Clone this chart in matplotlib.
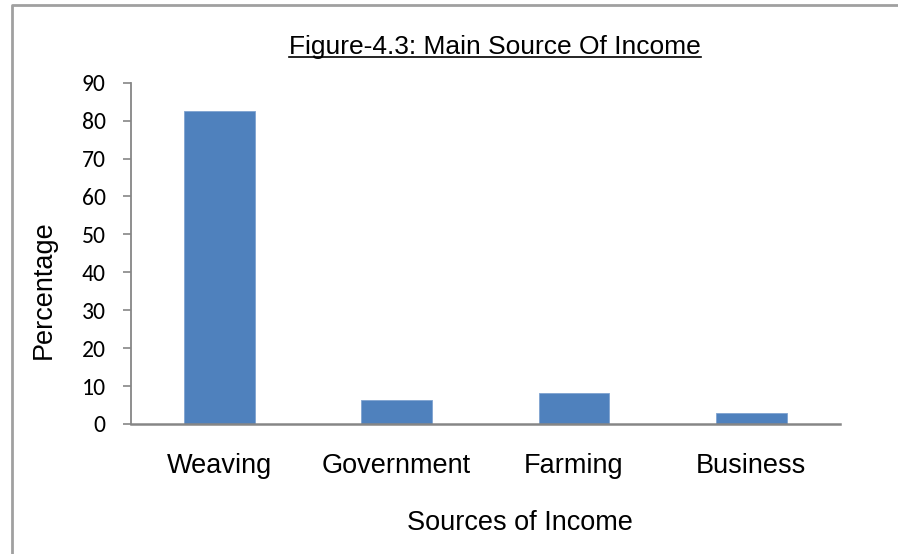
import numpy as np
import matplotlib
matplotlib.use("Agg")
import matplotlib.pyplot as plt
from matplotlib.lines import Line2D

categories = ["Weaving", "Government", "Farming", "Business"]
percentages = [82.6, 6.3, 8.2, 2.8]
yticks = [0, 10, 20, 30, 40, 50, 60, 70, 80, 90]

narrow = ['Liberation Sans Narrow', 'Liberation Sans', 'DejaVu Sans']
calibri = ['Carlito', 'Lato', 'DejaVu Sans']
axisGrey = '#868686'

fig = plt.figure(figsize=(8.98, 5.54), dpi=100)
ax = fig.add_axes([0.1455, 0.2347, 0.7899, 0.616])

x = np.arange(len(categories))
ax.bar(x, percentages, width=0.4, color='#4F81BD', edgecolor='#7FA3D0', linewidth=0.6)
ax.set_xlim(-0.5, len(categories) - 0.5)
ax.set_ylim(0, 90)
ax.set_yticks(yticks)
ax.set_yticklabels([str(v) for v in yticks], family=calibri, fontsize=17)
ax.set_xticks(x)
ax.set_xticklabels(categories, family=narrow, fontsize=19.5)
ax.tick_params(axis='x', length=0, pad=21)
ax.tick_params(axis='y', length=6, width=1.2, color=axisGrey, pad=12)

for side in ['top', 'right']:
    ax.spines[side].set_visible(False)
ax.spines['left'].set_color(axisGrey)
ax.spines['bottom'].set_color(axisGrey)
ax.spines['left'].set_linewidth(1.3)
ax.spines['bottom'].set_linewidth(1.8)

ax.set_ylabel('Percentage', family=narrow, fontsize=19.5)
ax.yaxis.set_label_coords(-0.104, 0.393)
fig.text(520 / 898, 1 - 523 / 554, 'Sources of Income', family=narrow, fontsize=19.5,
         ha='center', va='center')

title = fig.text(495 / 898, 1 - 47 / 554, 'Figure-4.3: Main Source Of Income', family=narrow,
                 fontsize=19, ha='center', va='center')

# underline the title
fig.canvas.draw()
bb = title.get_window_extent().transformed(fig.transFigure.inverted())
fig.add_artist(Line2D([bb.x0, bb.x1], [bb.y0 + 0.004, bb.y0 + 0.004], transform=fig.transFigure,
                      color='black', linewidth=1.2))

# outer chart frame (left and top edges visible)
fig.add_artist(Line2D([12 / 898, 12 / 898, 1.01], [-0.01, 1 - 5 / 554, 1 - 5 / 554],
                      transform=fig.transFigure, color='#A0A0A0', linewidth=2))

fig.savefig('out.png', dpi=100)
